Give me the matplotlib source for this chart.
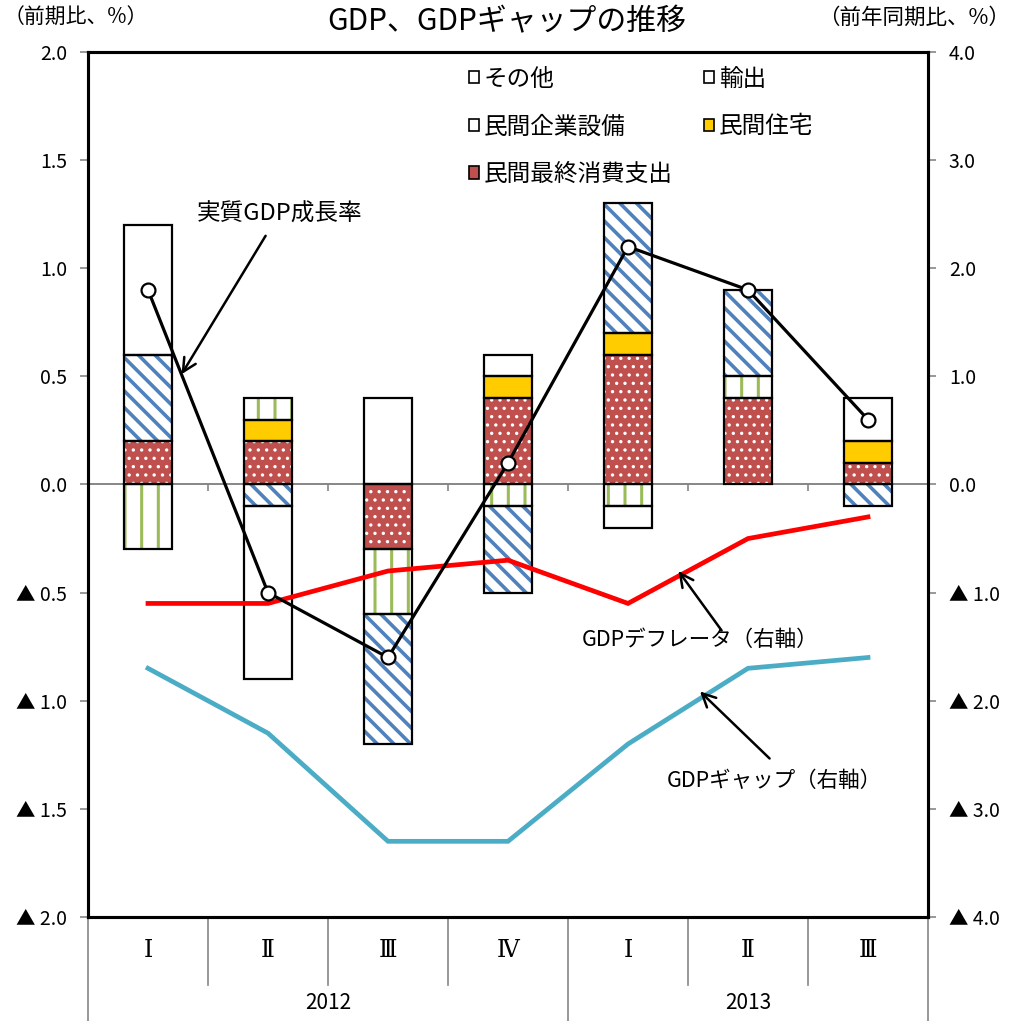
import matplotlib
matplotlib.use("Agg")
import matplotlib.pyplot as plt
import numpy as np
from matplotlib.patches import Patch

plt.rcParams["font.family"] = ["Noto Sans CJK JP", "DejaVu Sans"]
plt.rcParams["hatch.linewidth"] = 2.5

# ------------------------------------------------------------
# data (left axis: q/q %, right axis: y/y %)
# ------------------------------------------------------------

quarters = ["Ⅰ", "Ⅱ", "Ⅲ", "Ⅳ", "Ⅰ", "Ⅱ", "Ⅲ"]
years = ["2012", "2013"]
year_span = [4, 3]

consumption = [0.2, 0.2, -0.3, 0.4, 0.6, 0.4, 0.1]
housing = [0.0, 0.1, 0.0, 0.1, 0.1, 0.0, 0.1]
capex = [-0.3, 0.1, -0.3, -0.1, -0.1, 0.1, 0.0]
exports = [0.4, -0.1, -0.6, -0.4, 0.6, 0.4, -0.1]
other = [0.6, -0.8, 0.4, 0.1, -0.1, 0.0, 0.2]

real_gdp = [0.9, -0.5, -0.8, 0.1, 1.1, 0.9, 0.3]
deflator = [-1.1, -1.1, -0.8, -0.7, -1.1, -0.5, -0.3]
gdp_gap = [-1.7, -2.3, -3.3, -3.3, -2.4, -1.7, -1.6]

# ------------------------------------------------------------
# figure
# ------------------------------------------------------------

W, H = 1013, 1021
fig = plt.figure(figsize=(W / 100, H / 100), dpi=100)
L, R, T, B = 88, 928, 52, 917
ax = fig.add_axes([L / W, 1 - B / H, (R - L) / W, (B - T) / H])
ax2 = ax.twinx()

x = np.arange(len(quarters))
bw = 0.4

# series in stacking order: (values, face, hatch, hatch colour, hatch lw)
series = [
    (consumption, "#C0504D", "..", "white", 1.2),
    (housing, "#FFCC00", None, "black", 1.0),
    (capex, "white", "|", "#9BBB59", 2.2),
    (exports, "white", "\\\\", "#4F81BD", 2.6),
    (other, "white", None, "black", 1.0),
]

pos_base = np.zeros(len(x))
neg_base = np.zeros(len(x))
for vals, face, hatch, hcol, hlw in series:
    v = np.array(vals)
    bottom = np.where(v >= 0, pos_base, neg_base)
    with plt.rc_context({"hatch.linewidth": hlw}):
        ax.bar(x, v, bw, bottom=bottom, color=face, hatch=hatch,
               edgecolor=hcol, linewidth=0, zorder=2)
    ax.bar(x, v, bw, bottom=bottom, fill=False, edgecolor="black",
           linewidth=np.where(v != 0, 1.6, 0), zorder=3)
    pos_base += np.where(v > 0, v, 0)
    neg_base += np.where(v < 0, v, 0)

# zero line with small category ticks
ax.axhline(0, color="#868686", lw=1.4, zorder=1)
ax.vlines(x[:-1] + 0.5, -0.03, 0, color="#868686", lw=1.2, zorder=1)

# lines
ax2.plot(x, deflator, color="#FF0000", lw=3.4, zorder=3, solid_joinstyle="miter")
ax2.plot(x, gdp_gap, color="#4BACC6", lw=3.4, zorder=3, solid_joinstyle="miter")
ax2.plot(x, real_gdp, color="black", lw=2.3, marker="o", ms=10,
         mfc="white", mec="black", mew=1.6, zorder=4, transform=ax.transData)

# axes
ax.set_xlim(-0.5, len(x) - 0.5)
ax.set_ylim(-2, 2)
ax2.set_ylim(-4, 4)


def fmt(v):
    return f"{v:.1f}" if v >= 0 else f"▲ {-v:.1f}"


lt = np.arange(-2, 2.01, 0.5)
ax.set_yticks(lt)
ax.set_yticklabels([fmt(v) for v in lt])
rt = np.arange(-4, 4.01, 1.0)
ax2.set_yticks(rt)
ax2.set_yticklabels([fmt(v) for v in rt])

ax.set_xticks([])
for a in (ax, ax2):
    a.tick_params(axis="y", direction="out", length=6, width=1.2,
                  color="#868686", labelsize=14, pad=9)
    for s in a.spines.values():
        s.set_color("black")
        s.set_linewidth(2.2)

# category axis below the plot
tr = ax.get_xaxis_transform()
lab_y = -(950 - B) / (B - T)
year_y = -(1003 - B) / (B - T)
inner_bot = -(985 - B) / (B - T)
outer_bot = -(H - B) / (B - T)
for i, q in enumerate(quarters):
    ax.text(i, lab_y, q, transform=tr, ha="center", va="center",
            fontsize=17, family=["DejaVu Serif", "Noto Sans CJK JP"],
            clip_on=False)
edges = np.cumsum([0] + year_span) - 0.5
for i in range(len(x) + 1):
    xb = i - 0.5
    bot = outer_bot if xb in edges else inner_bot
    ax.plot([xb, xb], [0, bot], transform=tr, color="#868686", lw=1.2,
            clip_on=False)
for j, yr in enumerate(years):
    ax.text((edges[j] + edges[j + 1]) / 2, year_y, yr, transform=tr,
            ha="center", va="center", fontsize=15, clip_on=False)

# titles
fig.text(0.5, 1 - 22 / H, "GDP、GDPギャップの推移", ha="center", va="center",
         fontsize=21.5)
fig.text(4 / W, 1 - 18 / H, "（前期比、%）", ha="left", va="center", fontsize=15)
fig.text(1010 / W, 1 - 18 / H, "（前年同期比、%）", ha="right", va="center",
         fontsize=15.5)

# annotations
arrow = dict(arrowstyle="->", color="black", lw=1.8, mutation_scale=24,
             shrinkA=0, shrinkB=0)
ax2.annotate("", xy=(0.28, 0.51), xytext=(0.98, 1.15),
             xycoords=ax.transData, textcoords=ax.transData, arrowprops=arrow)
ax2.text(1.1, 1.25, "実質GDP成長率", transform=ax.transData,
         ha="center", va="center", fontsize=17)
ax2.annotate("", xy=(4.42, -0.40), xytext=(4.78, -0.675),
             xycoords=ax.transData, textcoords=ax.transData, arrowprops=arrow)
ax2.text(4.6, -0.72, "GDPデフレータ（右軸）", transform=ax.transData,
         ha="center", va="center", fontsize=15.5)
ax2.annotate("", xy=(4.6, -0.957), xytext=(5.18, -1.267),
             xycoords=ax.transData, textcoords=ax.transData, arrowprops=arrow)
ax2.text(5.22, -1.37, "GDPギャップ（右軸）", transform=ax.transData,
         ha="center", va="center", fontsize=15.5)

# legend, row-major across two columns
h_other = Patch(facecolor="white", edgecolor="black", lw=1.2, label="その他")
h_exp = Patch(facecolor="white", edgecolor="black", lw=1.2, label="輸出")
h_capex = Patch(facecolor="white", edgecolor="black", lw=1.2, label="民間企業設備")
h_house = Patch(facecolor="#FFCC00", edgecolor="black", lw=1.2, label="民間住宅")
h_cons = Patch(facecolor="#C0504D", edgecolor="black", lw=1.2, label="民間最終消費支出")
fig.legend(handles=[h_other, h_capex, h_cons, h_exp, h_house], ncol=2,
           loc="upper left", bbox_to_anchor=(452 / W, 1 - 51 / H),
           frameon=False, fontsize=17, handlelength=0.45, handleheight=0.45,
           handletextpad=0.2, columnspacing=1.3, labelspacing=1.05,
           borderpad=0.2)

fig.savefig("out.png", dpi=100)
